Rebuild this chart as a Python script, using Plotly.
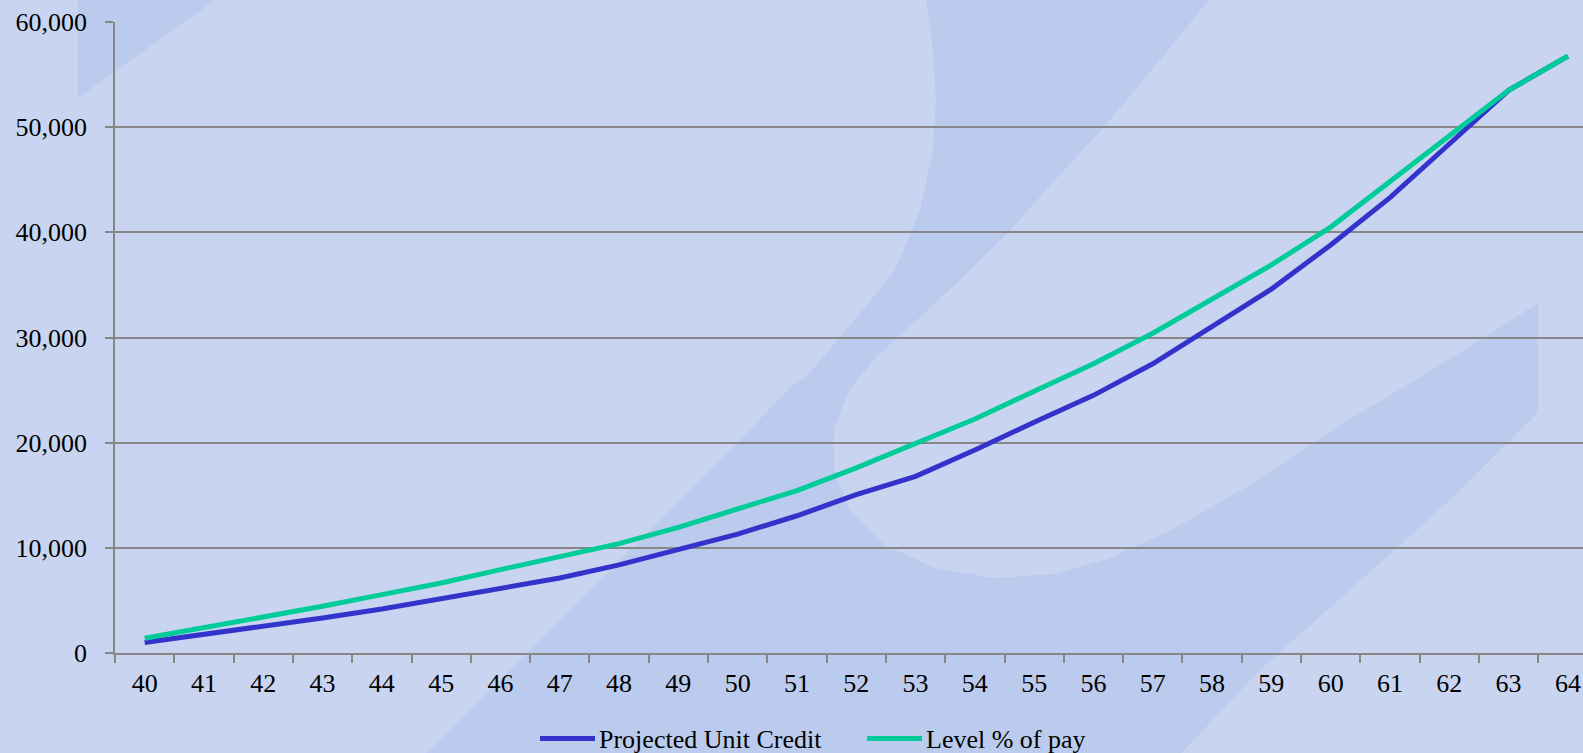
import plotly.graph_objects as go

ages = [str(a) for a in range(40, 65)]
puc = [1000, 1750, 2540, 3330, 4180, 5140, 6090, 7130, 8380, 9850, 11300, 13050, 15050,
       16800, 19300, 21950, 24500, 27500, 31100, 34600, 38800, 43300, 48400, 53500, 56750]
level = [1400, 2380, 3420, 4440, 5550, 6660, 7930, 9200, 10400, 11950, 13700, 15450, 17600,
         19900, 22250, 24900, 27500, 30400, 33600, 36900, 40500, 44800, 49200, 53500, 56750]
series_names = ["Projected Unit Credit", "Level % of pay"]
series_colors = ["#3333CC", "#00CC99"]

W, H = 1583, 753
L, R, T, B = 115, 0, 22, 100
PW, PH = W - L - R, H - T - B
BG = "#C9D5F0"
DARK = "#BACBED"
GRID = "#878787"
FONT = "Liberation Serif, Times New Roman, serif"


def px(x, y):
    return (x - L) / PW, (H - B - y) / PH


def path(points):
    parts = []
    for i, (x, y) in enumerate(points):
        a, b = px(x, y)
        parts.append(("M" if i == 0 else "L") + f"{a:.5f},{b:.5f}")
    return " ".join(parts) + " Z"


fig = go.Figure()
for name, vals, col in zip(series_names, [puc, level], series_colors):
    fig.add_trace(go.Scatter(x=ages, y=vals, mode="lines", name=name,
                             line=dict(color=col, width=5), showlegend=False))

shapes = []
# watermark: top-left wedge
shapes.append(dict(type="path", xref="paper", yref="paper", layer="below",
                   path=path([(78, -5), (222, -5), (78, 98)]),
                   fillcolor=DARK, line=dict(width=0)))
# watermark: big curved band
band = [(925, -5), (1213, -5), (1160, 60), (1104, 127), (1055, 180), (1008, 233), (960, 280),
        (917, 320), (875, 358), (848, 392), (834, 430), (834, 470), (850, 510), (885, 545),
        (935, 568), (995, 578), (1055, 574), (1110, 558), (1175, 528), (1250, 485),
        (1340, 425), (1422, 376), (1480, 340), (1538, 303), (1538, 413), (1450, 500),
        (1350, 590), (1260, 670), (1175, 760), (419, 760), (520, 660), (620, 560),
        (720, 460), (792, 386), (806, 377), (857, 317), (895, 270), (920, 210),
        (933, 150), (936, 100), (932, 40)]
shapes.append(dict(type="path", xref="paper", yref="paper", layer="below",
                   path=path(band), fillcolor=DARK, line=dict(width=0)))

# custom legend
line_y = 738.5
text_y = 739
leg_items = [(540, 595, 598), (867, 922, 925)]
annotations = []
for (x0, x1, tx), name, col in zip(leg_items, series_names, series_colors):
    a0, b0 = px(x0, line_y)
    a1, _ = px(x1, line_y)
    shapes.append(dict(type="line", xref="paper", yref="paper", x0=a0, x1=a1, y0=b0, y1=b0,
                       line=dict(color=col, width=5)))
    ta, tb = px(tx, text_y)
    annotations.append(dict(xref="paper", yref="paper", x=ta, y=tb, xanchor="left",
                            yanchor="middle", text=name, showarrow=False,
                            font=dict(family=FONT, size=26, color="black"), borderpad=0))

fig.update_layout(
    width=W, height=H,
    margin=dict(l=L, r=R, t=T, b=B, pad=0),
    paper_bgcolor=BG, plot_bgcolor="rgba(0,0,0,0)",
    font=dict(family=FONT, size=26, color="black"),
    showlegend=False,
    shapes=shapes,
    annotations=annotations,
)
fig.update_xaxes(type="category", range=[-0.5, 24.255], tickson="boundaries",
                 ticks="outside", ticklen=8, tickwidth=1.5, tickcolor=GRID,
                 showline=True, linecolor=GRID, linewidth=1.5, showgrid=False,
                 ticklabelstandoff=6,
                 tickfont=dict(family=FONT, size=26, color="black"), fixedrange=True)
fig.update_yaxes(range=[0, 60000], dtick=10000, tickformat=",d",
                 ticks="outside", ticklen=8, tickwidth=1.5, tickcolor=GRID,
                 showline=True, linecolor=GRID, linewidth=1.5,
                 showgrid=True, gridcolor=GRID, gridwidth=1.5, zeroline=False,
                 ticklabelstandoff=13,
                 tickfont=dict(family=FONT, size=26, color="black"), fixedrange=True)

fig.write_html("out.html")
